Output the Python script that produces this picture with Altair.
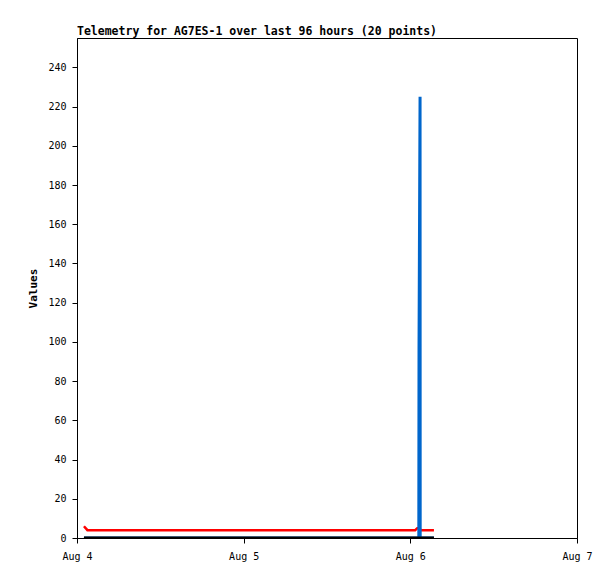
import altair as alt
import pandas as pd

hours = [1.0, 1.5, 6, 12, 18, 24, 30, 36, 42, 48, 48.7, 49.0, 49.22, 49.25, 49.4, 49.42, 50.0, 50.6, 51.0, 51.4]
red_vals = [6, 4, 4, 4, 4, 4, 4, 4, 4, 4, 4, 5, 5, 5, 4.5, 4, 4, 4, 4, 4]
blue_vals = [0, 0, 0, 0, 0, 0, 0, 0, 0, 0, 0, 0, 0, 97, 225, 0, 0, 0, 0, 0]
black_vals = [0] * 20
y_ticks = list(range(0, 241, 20))

base = pd.Timestamp("2023-08-04T00:00:00")
times = [(base + pd.Timedelta(hours=h)).strftime("%Y-%m-%dT%H:%M:%S") for h in hours]

df = pd.DataFrame({"t": times, "red": red_vals, "blue": blue_vals, "black": black_vals})

FONT = "DejaVu Sans Mono"

x_enc = alt.X(
    "t:T",
    scale=alt.Scale(domain=[alt.DateTime(year=2023, month=8, date=4),
                            alt.DateTime(year=2023, month=8, date=7)]),
    axis=alt.Axis(
        values=[alt.DateTime(year=2023, month=8, date=d) for d in [4, 5, 6, 7]],
        format="%b %-d", title=None, grid=False, tickSize=5, labelPadding=8,
        labelFlush=False, labelOverlap=False,
        domainColor="black", tickColor="black", labelColor="black",
        labelFont=FONT, labelFontSize=10,
    ),
)


def line(field, color, w):
    return alt.Chart(df).mark_line(color=color, strokeWidth=w, clip=True).encode(
        x=x_enc,
        y=alt.Y(
            f"{field}:Q",
            scale=alt.Scale(domain=[0, 255], nice=False),
            axis=alt.Axis(
                values=y_ticks, title="Values", grid=False, tickSize=5, labelPadding=6,
                domainColor="black", tickColor="black", labelColor="black",
                labelFont=FONT, labelFontSize=10, titleFont=FONT, titleFontSize=11,
                titleFontWeight="bold", titleColor="black", titlePadding=9,
            ),
        ),
    )


chart = alt.layer(
    line("red", "#ff0000", 2.5),
    line("blue", "#0066cc", 3),
    line("black", "#000000", 3),
).properties(
    width=500,
    height=500,
    autosize="none",
    background="white",
    padding={"left": 69, "top": 30, "right": 30, "bottom": 33},
    title=alt.TitleParams(
        "Telemetry for AG7ES-1 over last 96 hours (20 points)",
        anchor="start", frame="group", font=FONT, fontSize=11.5, fontWeight="bold",
        color="black", offset=1,
    ),
).configure_view(stroke="black", strokeWidth=1)

chart.save("out.html", embed_options={"renderer": "svg", "actions": False})
